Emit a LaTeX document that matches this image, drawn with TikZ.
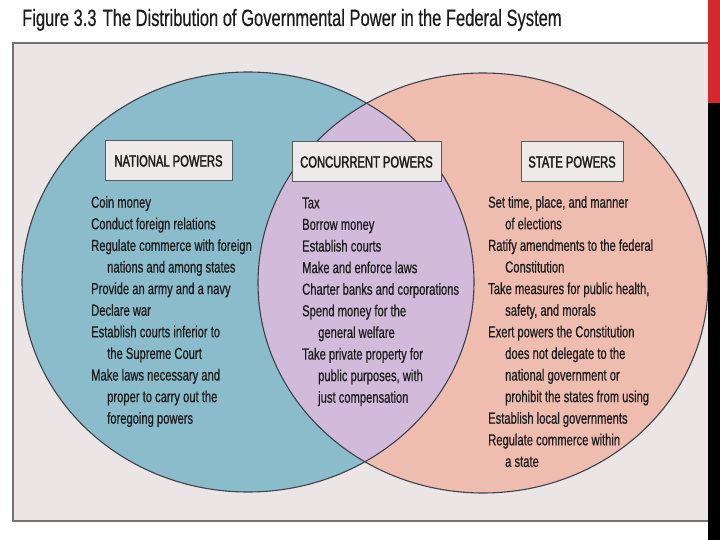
\documentclass[tikz,border=0pt]{standalone}
\usepackage{fontspec}
\setmainfont{Liberation Sans}
\newfontfamily\narrow{Liberation Sans}[FakeStretch=0.7,FakeBold=0.6]
\newfontfamily\narrowtitle{Liberation Sans}[FakeStretch=0.7,FakeBold=0.4]
\newfontfamily\narrowhdr{Liberation Sans}[FakeStretch=0.7,FakeBold=2]
\definecolor{natblue}{HTML}{8BBCCB}
\definecolor{statepink}{HTML}{EFBDAF}
\definecolor{concpurple}{HTML}{D1BADA}
\definecolor{framebg}{HTML}{EBE5E5}
\definecolor{boxbg}{HTML}{EEEAEA}
\definecolor{outline}{HTML}{3C4249}
\definecolor{txt}{HTML}{1C1C1C}
\definecolor{barred}{HTML}{D42A2E}
\begin{document}
\begin{tikzpicture}[x=1pt,y=-1pt,
  hdrbox/.style={draw=black!65,line width=1pt,fill=boxbg,inner sep=0pt,
    minimum height=40pt,text=txt,font={\narrowhdr\fontsize{16}{20}\selectfont}},
  listtext/.style={anchor=north west,align=left,inner sep=0pt,text=txt,
    font={\narrow\fontsize{16}{21.6}\selectfont}}]
\useasboundingbox (0,0) rectangle (720,540);
\fill[white] (0,0) rectangle (720,540);
% title
\node[anchor=base west,inner sep=0pt,text=txt,font={\narrowtitle\fontsize{23.6}{28}\selectfont}] (title) at (22,26)
  {Figure 3.3\hspace{6pt}The Distribution of Governmental Power in the Federal System};
% frame
\draw[fill=framebg,draw=black!55,line width=1.5pt] (13,43) rectangle (716,521);
% ellipses
\fill[natblue] (248,282) ellipse [x radius=226pt, y radius=210pt];
\fill[statepink] (483,283) ellipse [x radius=225pt, y radius=210pt];
\begin{scope}
  \clip (248,282) ellipse [x radius=226pt, y radius=210pt];
  \fill[concpurple] (483,283) ellipse [x radius=225pt, y radius=210pt];
\end{scope}
\draw[outline,line width=1.1pt] (248,282) ellipse [x radius=226pt, y radius=210pt];
\draw[outline,line width=1.1pt] (483,283) ellipse [x radius=225pt, y radius=210pt];
% header boxes
\node[hdrbox,minimum width=127pt] (nat) at (168.5,161) {NATIONAL POWERS};
\node[hdrbox,minimum width=149pt] (conc) at (366.5,162) {CONCURRENT POWERS};
\node[hdrbox,minimum width=102pt] (state) at (572,162) {STATE POWERS};
% lists
\node[listtext] (natlist) at (91,192.4) {\strut Coin money\\
\strut Conduct foreign relations\\
\strut Regulate commerce with foreign\\
\strut\hspace*{16pt}nations and among states\\
\strut Provide an army and a navy\\
\strut Declare war\\
\strut Establish courts inferior to\\
\strut\hspace*{16pt}the Supreme Court\\
\strut Make laws necessary and\\
\strut\hspace*{16pt}proper to carry out the\\
\strut\hspace*{16pt}foregoing powers};
\node[listtext] (conclist) at (302,193) {\strut Tax\\
\strut Borrow money\\
\strut Establish courts\\
\strut Make and enforce laws\\
\strut Charter banks and corporations\\
\strut Spend money for the\\
\strut\hspace*{16pt}general welfare\\
\strut Take private property for\\
\strut\hspace*{16pt}public purposes, with\\
\strut\hspace*{16pt}just compensation};
\node[listtext] (statelist) at (488,192.4) {\strut Set time, place, and manner\\
\strut\hspace*{17pt}of elections\\
\strut Ratify amendments to the federal\\
\strut\hspace*{17pt}Constitution\\
\strut Take measures for public health,\\
\strut\hspace*{17pt}safety, and morals\\
\strut Exert powers the Constitution\\
\strut\hspace*{17pt}does not delegate to the\\
\strut\hspace*{17pt}national government or\\
\strut\hspace*{17pt}prohibit the states from using\\
\strut Establish local governments\\
\strut Regulate commerce within\\
\strut\hspace*{17pt}a state};
% side bar
\fill[barred] (708,0) rectangle (720,103);
\fill[black] (708,103) rectangle (720,540);
\end{tikzpicture}
\end{document}
